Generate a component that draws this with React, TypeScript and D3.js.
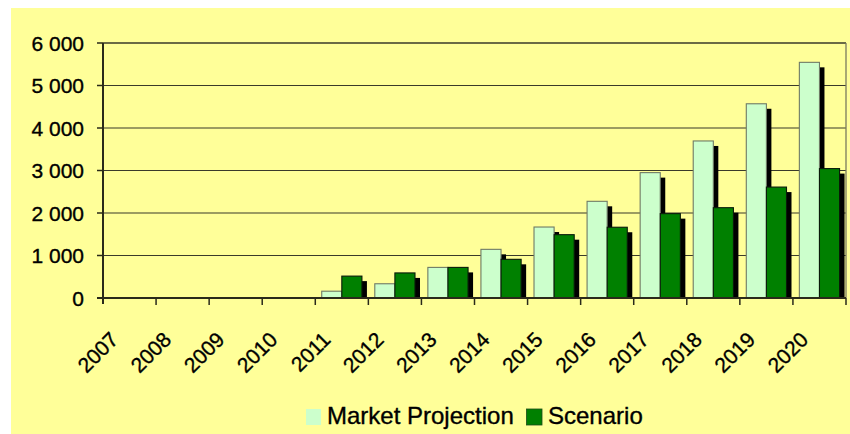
import React from "react";
import * as d3 from "d3";

const years = ["2007", "2008", "2009", "2010", "2011", "2012", "2013", "2014", "2015", "2016", "2017", "2018", "2019", "2020"];
const marketProjection = [0, 0, 0, 0, 160, 335, 720, 1145, 1670, 2275, 2950, 3695, 4570, 5545];
const scenario = [0, 0, 0, 0, 515, 590, 720, 910, 1490, 1665, 1985, 2125, 2610, 3045];
const seriesNames = ["Market Projection", "Scenario"];
const yTicks = [0, 1000, 2000, 3000, 4000, 5000, 6000];

const W = 850;
const H = 434;
const plot = { left: 103, right: 846, top: 43, bottom: 298 };
const fills = ["#CCFFCC", "#008000"];
const strokes = ["#6f7a66", "#0a1a0a"];
const shadowOff = 5;
const font = "'Liberation Sans', Arial, sans-serif";

const fmt = (v: number) => d3.format(",")(v).replace(/,/g, " ");

export default function App() {
  const x0 = d3.scaleBand<string>().domain(years).range([plot.left, plot.right]).paddingInner(0).paddingOuter(0);
  const x1 = d3.scaleBand<string>().domain(seriesNames).range([0, x0.bandwidth()]).paddingInner(0).paddingOuter(0.32);
  const y = d3.scaleLinear().domain([0, 6000]).range([plot.bottom, plot.top]);
  const data = [marketProjection, scenario];

  const bars: { s: number; i: number; x: number; w: number; yTop: number }[] = [];
  years.forEach((yr, i) => {
    data.forEach((arr, s) => {
      const v = arr[i];
      if (v <= 0) return;
      bars.push({ s, i, x: (x0(yr) as number) + (x1(seriesNames[s]) as number), w: x1.bandwidth(), yTop: y(v) });
    });
  });

  const textStyle = { stroke: "#000", strokeWidth: 0.35 };

  return (
    <svg width={W} height={H} style={{ position: "absolute", left: 0, top: 0, background: "#fff" }} fontFamily={font}>
      <rect x={11} y={8} width={W - 11} height={H - 8} fill="#FFFF99" />
      {/* gridlines */}
      {yTicks.filter((t) => t > 0).map((t) => (
        <line key={"g" + t} x1={plot.left} x2={plot.right} y1={y(t)} y2={y(t)} stroke="#3a3a2a" strokeWidth={t === 6000 ? 1.6 : 1.2} />
      ))}
      {/* right border */}
      <line x1={plot.right} x2={plot.right} y1={plot.top} y2={plot.bottom} stroke="#7a7a60" strokeWidth={1.3} />
      {/* shadows */}
      {bars.map((b) => (
        <rect key={"sh" + b.s + "-" + b.i} x={b.x + shadowOff} y={b.yTop + shadowOff} width={b.w} height={Math.max(0, plot.bottom - b.yTop - shadowOff)} fill="#000" />
      ))}
      {/* bars */}
      {bars.map((b) => (
        <rect key={"b" + b.s + "-" + b.i} x={b.x} y={b.yTop} width={b.w} height={plot.bottom - b.yTop} fill={fills[b.s]} stroke={strokes[b.s]} strokeWidth={1.1} />
      ))}
      {/* axes */}
      <line x1={plot.left} x2={plot.left} y1={plot.top} y2={plot.bottom + 6} stroke="#2a2a1a" strokeWidth={2} />
      <line x1={plot.left - 6} x2={plot.right} y1={plot.bottom} y2={plot.bottom} stroke="#2a2a1a" strokeWidth={2} />
      {yTicks.map((t) => (
        <g key={"yt" + t}>
          <line x1={plot.left - 6} x2={plot.left} y1={y(t)} y2={y(t)} stroke="#2a2a1a" strokeWidth={1.5} />
          <text x={84} y={y(t)} dy="0.36em" textAnchor="end" fontSize={21} fill="#000" style={textStyle}>{fmt(t)}</text>
        </g>
      ))}
      {years.map((yr) => (
        <line key={"xt" + yr} x1={(x0(yr) as number) + x0.bandwidth()} x2={(x0(yr) as number) + x0.bandwidth()} y1={plot.bottom} y2={plot.bottom + 7} stroke="#2a2a1a" strokeWidth={1.5} />
      ))}
      {years.map((yr) => {
        const cx = (x0(yr) as number) + x0.bandwidth() / 2 - 10;
        const cy = 341;
        return (
          <text key={"xl" + yr} x={cx} y={cy} textAnchor="end" fontSize={21} fill="#000" style={textStyle} transform={`rotate(-45 ${cx} ${cy})`}>{yr}</text>
        );
      })}
      {/* legend */}
      <rect x={306} y={409} width={15} height={16} fill={fills[0]} />
      <text x={327} y={424} fontSize={24} fill="#000" style={textStyle}>{seriesNames[0]}</text>
      <rect x={526.5} y={409} width={15.5} height={16} fill={fills[1]} stroke="#1a4a1a" strokeWidth={0.8} />
      <text x={548} y={424} fontSize={24} fill="#000" style={textStyle}>{seriesNames[1]}</text>
    </svg>
  );
}
